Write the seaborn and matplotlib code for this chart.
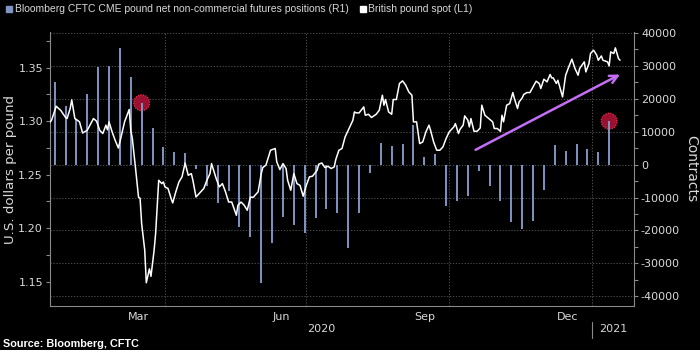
import numpy as np
import pandas as pd
import matplotlib
matplotlib.use("Agg")
import matplotlib.pyplot as plt
import matplotlib.dates as mdates
import matplotlib.ticker as mticker
from matplotlib.lines import Line2D
import seaborn as sns

# --- dados ---
# CFTC: posições líquidas semanais (contratos), a partir de 21/01/2020
cftc_start = "2020-01-21"
cftc_values = [25000, 17900, 14000, 21400, 29600, 29900, 35500, 26500, 18800, 11100,
               5400, 3700, 3400, -1200, -6600, -11800, -8000, -18900, -22100, -35900,
               -23700, -15900, -18200, -20900, -16200, -13500, -14800, -25300, -14600, -2500,
               6700, 5800, 6400, 11900, 2300, 3100, -12500, -11000, -9600, -1900,
               -6500, -11000, -17400, -19600, -17000, -7700, 5900, 4000, 6200, 4900,
               3700, 13200]
highlight_idx = [8, 51]

# GBP spot (USD por libra)
spot_dates = [
    "2020-01-18", "2020-01-19", "2020-01-22", "2020-01-25", "2020-01-28", "2020-01-29", "2020-01-31",
    "2020-02-01", "2020-02-03", "2020-02-04", "2020-02-06", "2020-02-08", "2020-02-11", "2020-02-13",
    "2020-02-15", "2020-02-17", "2020-02-19", "2020-02-21", "2020-02-23", "2020-02-24", "2020-02-25",
    "2020-02-27", "2020-02-29",
    "2020-03-02", "2020-03-03", "2020-03-06", "2020-03-09", "2020-03-10", "2020-03-11", "2020-03-13",
    "2020-03-15", "2020-03-16", "2020-03-17", "2020-03-19", "2020-03-20", "2020-03-22", "2020-03-23",
    "2020-03-25", "2020-03-26", "2020-03-28", "2020-03-30", "2020-03-31",
    "2020-04-01", "2020-04-03", "2020-04-05", "2020-04-06", "2020-04-08", "2020-04-10", "2020-04-12",
    "2020-04-14", "2020-04-16", "2020-04-18", "2020-04-19", "2020-04-21", "2020-04-24", "2020-04-26",
    "2020-04-28", "2020-04-30",
    "2020-05-01", "2020-05-03", "2020-05-04", "2020-05-06", "2020-05-08", "2020-05-10", "2020-05-12",
    "2020-05-14", "2020-05-17", "2020-05-18", "2020-05-20", "2020-05-22", "2020-05-24", "2020-05-26",
    "2020-05-28", "2020-05-29", "2020-05-31",
    "2020-06-02", "2020-06-03", "2020-06-05", "2020-06-07", "2020-06-08", "2020-06-11", "2020-06-12",
    "2020-06-14", "2020-06-16", "2020-06-18", "2020-06-19", "2020-06-21", "2020-06-23", "2020-06-25",
    "2020-06-27", "2020-06-29",
    "2020-07-01", "2020-07-03", "2020-07-05", "2020-07-08", "2020-07-09", "2020-07-11", "2020-07-13",
    "2020-07-15", "2020-07-17", "2020-07-19", "2020-07-20", "2020-07-22", "2020-07-24", "2020-07-26",
    "2020-07-28", "2020-07-31",
    "2020-08-01", "2020-08-02", "2020-08-04", "2020-08-07", "2020-08-08", "2020-08-10", "2020-08-12",
    "2020-08-15", "2020-08-17", "2020-08-19", "2020-08-20", "2020-08-21", "2020-08-23", "2020-08-25",
    "2020-08-26", "2020-08-28", "2020-08-30",
    "2020-09-01", "2020-09-03", "2020-09-05", "2020-09-07", "2020-09-08", "2020-09-10", "2020-09-12",
    "2020-09-14", "2020-09-16", "2020-09-18", "2020-09-19", "2020-09-21", "2020-09-23", "2020-09-25",
    "2020-09-27", "2020-09-29",
    "2020-10-01", "2020-10-04", "2020-10-05", "2020-10-07", "2020-10-08", "2020-10-10", "2020-10-11",
    "2020-10-13", "2020-10-14", "2020-10-15", "2020-10-17", "2020-10-19", "2020-10-21", "2020-10-22",
    "2020-10-24", "2020-10-26", "2020-10-29", "2020-10-30",
    "2020-11-01", "2020-11-03", "2020-11-04", "2020-11-05", "2020-11-07", "2020-11-09", "2020-11-11",
    "2020-11-12", "2020-11-14", "2020-11-15", "2020-11-17", "2020-11-18", "2020-11-20", "2020-11-22",
    "2020-11-24", "2020-11-26", "2020-11-28", "2020-11-29",
    "2020-12-01", "2020-12-03", "2020-12-05", "2020-12-06", "2020-12-07", "2020-12-09", "2020-12-10",
    "2020-12-13", "2020-12-15", "2020-12-17", "2020-12-19", "2020-12-21", "2020-12-23", "2020-12-24",
    "2020-12-27", "2020-12-28", "2020-12-30", "2020-12-31",
    "2021-01-02", "2021-01-04", "2021-01-05", "2021-01-07", "2021-01-08", "2021-01-11", "2021-01-12",
    "2021-01-13", "2021-01-15", "2021-01-16", "2021-01-18", "2021-01-19",
]
spot_values = [
    1.299, 1.301, 1.314, 1.310, 1.3035, 1.3025, 1.312,
    1.320, 1.3025, 1.3016, 1.2994, 1.289, 1.2916, 1.297,
    1.3025, 1.300, 1.2916, 1.2885, 1.2963, 1.292, 1.2994,
    1.290, 1.282,
    1.275, 1.2806, 1.2994, 1.311, 1.2916, 1.2838, 1.257,
    1.229, 1.228, 1.2044, 1.1794, 1.149, 1.162, 1.155,
    1.179, 1.195, 1.2448, 1.2417, 1.2432,
    1.2386, 1.2371, 1.2277, 1.2236, 1.234, 1.2432, 1.248,
    1.261, 1.2495, 1.251, 1.2448, 1.2292, 1.234, 1.2371,
    1.2448, 1.251,
    1.2604, 1.251, 1.2464, 1.2386, 1.2417, 1.234, 1.2245,
    1.2245, 1.2121, 1.2215, 1.2245, 1.2215, 1.2168, 1.229,
    1.229, 1.2308, 1.234,
    1.251, 1.2567, 1.2589, 1.2682, 1.2729, 1.2745, 1.262,
    1.2548, 1.2604, 1.2558, 1.2448, 1.2355, 1.251, 1.2417,
    1.240, 1.2299,
    1.240, 1.248, 1.2486, 1.2542, 1.2598, 1.261, 1.2567,
    1.2579, 1.2558, 1.2573, 1.2642, 1.2729, 1.2745, 1.2853,
    1.2916, 1.3009,
    1.3087, 1.3078, 1.3078, 1.3134, 1.3056, 1.3065, 1.3035,
    1.3065, 1.3103, 1.3243, 1.315, 1.3203, 1.3087, 1.3065,
    1.3203, 1.3203, 1.3353,
    1.3377, 1.3337, 1.3274, 1.3243, 1.2994, 1.2994, 1.2791,
    1.2806, 1.290, 1.2963, 1.2916, 1.2806, 1.2729, 1.2729,
    1.276, 1.2838,
    1.290, 1.2947, 1.2978, 1.2885, 1.2925, 1.2963, 1.305,
    1.301, 1.2947, 1.3025, 1.2906, 1.2906, 1.2937, 1.315,
    1.3056, 1.3031, 1.2994, 1.2932,
    1.2932, 1.2906, 1.3056, 1.2994, 1.315, 1.3165, 1.3268,
    1.3212, 1.3119, 1.318, 1.3218, 1.325, 1.3268, 1.3268,
    1.332, 1.3374, 1.3353, 1.3306,
    1.3393, 1.3368, 1.3437, 1.3405, 1.3405, 1.3353, 1.3383,
    1.3227, 1.343, 1.3508, 1.358, 1.3493, 1.343, 1.3493,
    1.3555, 1.3461, 1.3539, 1.3633,
    1.3664, 1.3617, 1.357, 1.361, 1.357, 1.3555, 1.3517,
    1.3648, 1.3633, 1.3686, 1.3586, 1.357,
]

month_label_dates = ["2020-03-15", "2020-06-15", "2020-09-15", "2020-12-16"]
month_labels = ["Mar", "Jun", "Sep", "Dec"]
year_labels = ["2020", "2021"]

# seta de tendência (data, contratos)
arrow_start = ("2020-10-18", 4500)
arrow_end = ("2021-01-19", 27400)

X_MIN, X_MAX = "2020-01-18", "2021-01-28"
LEFT_LIM = (1.1273, 1.3834)
RIGHT_LIM = (-42950, 40300)

BG = "black"
FG = "#d9d9d9"
AXIS_GREY = "#8a8a8a"
GRID_GREY = "#5c5c5c"
BAR_BLUE = "#7f95c2"

sns.set_style("dark", rc={"axes.facecolor": BG, "figure.facecolor": BG})
plt.rcParams["font.family"] = ["DejaVu Sans"]
plt.rcParams["axes.unicode_minus"] = False

bar_dates = pd.date_range(cftc_start, periods=len(cftc_values), freq="7D")
bar_vals = np.array(cftc_values)
spot_dt = pd.to_datetime(spot_dates)

fig = plt.figure(figsize=(7, 3.5), dpi=100, facecolor=BG)
ax = fig.add_axes([50 / 700, 1 - 306 / 350, 584 / 700, 274 / 350])
ax_l = ax.twinx()

# barras CFTC (eixo direito)
ax.vlines(bar_dates, 0, bar_vals, colors=BAR_BLUE, linewidth=1.4, zorder=3)
ax.scatter(bar_dates[highlight_idx], bar_vals[highlight_idx], s=130,
           facecolor="#9a1030", edgecolor="#ff2a44", linewidths=0.9,
           linestyle=(0, (1, 1)), zorder=2)
ax.annotate("", xy=(pd.Timestamp(arrow_end[0]), arrow_end[1]),
            xytext=(pd.Timestamp(arrow_start[0]), arrow_start[1]),
            arrowprops=dict(arrowstyle="->", color="#c46ef5", lw=1.8,
                            mutation_scale=14, shrinkA=0, shrinkB=0),
            zorder=5)

# libra spot (eixo esquerdo)
sns.lineplot(x=spot_dt, y=spot_values, ax=ax_l, color="white", linewidth=1.1, zorder=5)

# eixos y
ax.set_ylim(*RIGHT_LIM)
ax.yaxis.tick_right()
ax.yaxis.set_label_position("right")
ax.set_yticks(np.arange(-40000, 40001, 10000))
ax.yaxis.set_minor_locator(mticker.MultipleLocator(5000))
ax.yaxis.set_major_formatter(mticker.StrMethodFormatter("{x:.0f}"))
ax.set_ylabel("Contracts", rotation=270, color=FG, fontsize=10, labelpad=13)
ax.grid(axis="y", color=GRID_GREY, linestyle=(0, (1.5, 2)), linewidth=0.6)
ax.grid(axis="x", visible=False)

ax_l.set_ylim(*LEFT_LIM)
ax_l.yaxis.tick_left()
ax_l.yaxis.set_label_position("left")
ax_l.set_yticks([1.15, 1.20, 1.25, 1.30, 1.35])
ax_l.yaxis.set_minor_locator(mticker.MultipleLocator(0.025))
ax_l.yaxis.set_major_formatter(mticker.StrMethodFormatter("{x:.2f}"))
ax_l.set_ylabel("U.S. dollars per pound", color=FG, fontsize=9.6, labelpad=1)
ax_l.grid(False)

for a in (ax, ax_l):
    a.tick_params(axis="y", which="both", colors=AXIS_GREY, labelcolor=FG,
                  labelsize=8, direction="out", length=3, width=0.8, pad=2)
    for s in a.spines.values():
        s.set_visible(False)
ax_l.spines["left"].set_visible(True)
ax_l.spines["left"].set_color(AXIS_GREY)
ax.spines["right"].set_visible(True)
ax.spines["right"].set_color(AXIS_GREY)
ax.spines["bottom"].set_visible(True)
ax.spines["bottom"].set_color(AXIS_GREY)

# eixo x
ax.set_xlim(pd.Timestamp(X_MIN), pd.Timestamp(X_MAX))
ax.xaxis.set_minor_locator(mdates.MonthLocator())
ax.set_xticks(pd.to_datetime(month_label_dates))
ax.set_xticklabels(month_labels)
ax.tick_params(axis="x", which="major", length=0, pad=4, labelsize=8, labelcolor=FG)
ax.tick_params(axis="x", which="minor", length=3, width=0.8, color=AXIS_GREY, direction="out")

for q in pd.to_datetime(["2020-04-01", "2020-07-01", "2020-10-01", "2021-01-01"]):
    ax.axvline(q, color=GRID_GREY, linestyle=(0, (1.5, 2)), linewidth=0.6, zorder=1)

# rótulos de ano
trans = ax.get_xaxis_transform()
x0, x1 = pd.Timestamp(X_MIN), pd.Timestamp(X_MAX)
jan1 = pd.Timestamp("2021-01-01")
ax.text(x0 + (jan1 - x0) / 2, -0.085, year_labels[0], transform=trans,
        ha="center", va="center", fontsize=8, color=FG)
ax.text(jan1 + (x1 - jan1) / 2, -0.085, year_labels[1], transform=trans,
        ha="center", va="center", fontsize=8, color=FG)
ax.plot([jan1, jan1], [-0.058, -0.115], transform=trans, color=AXIS_GREY,
        linewidth=0.8, clip_on=False)

# legenda
handles = [Line2D([], [], marker="s", linestyle="", color=BAR_BLUE, markersize=5),
           Line2D([], [], marker="s", linestyle="", color="white", markersize=5)]
labels = ["Bloomberg CFTC CME pound net non-commercial futures positions (R1)",
          "British pound spot (L1)"]
fig.legend(handles, labels, loc="upper left", bbox_to_anchor=(0.0, 1.005), ncol=2,
           frameon=False, handlelength=0.6, handletextpad=0.25, columnspacing=1.0,
           borderaxespad=0.2, prop={"family": "Liberation Sans", "size": 7.5},
           labelcolor=FG)

fig.text(0.004, 0.017, "Source: Bloomberg, CFTC", color="white", fontsize=7.8,
         fontweight="bold", family="Liberation Sans", va="center")

fig.savefig("out.png", dpi=100, facecolor=BG)
